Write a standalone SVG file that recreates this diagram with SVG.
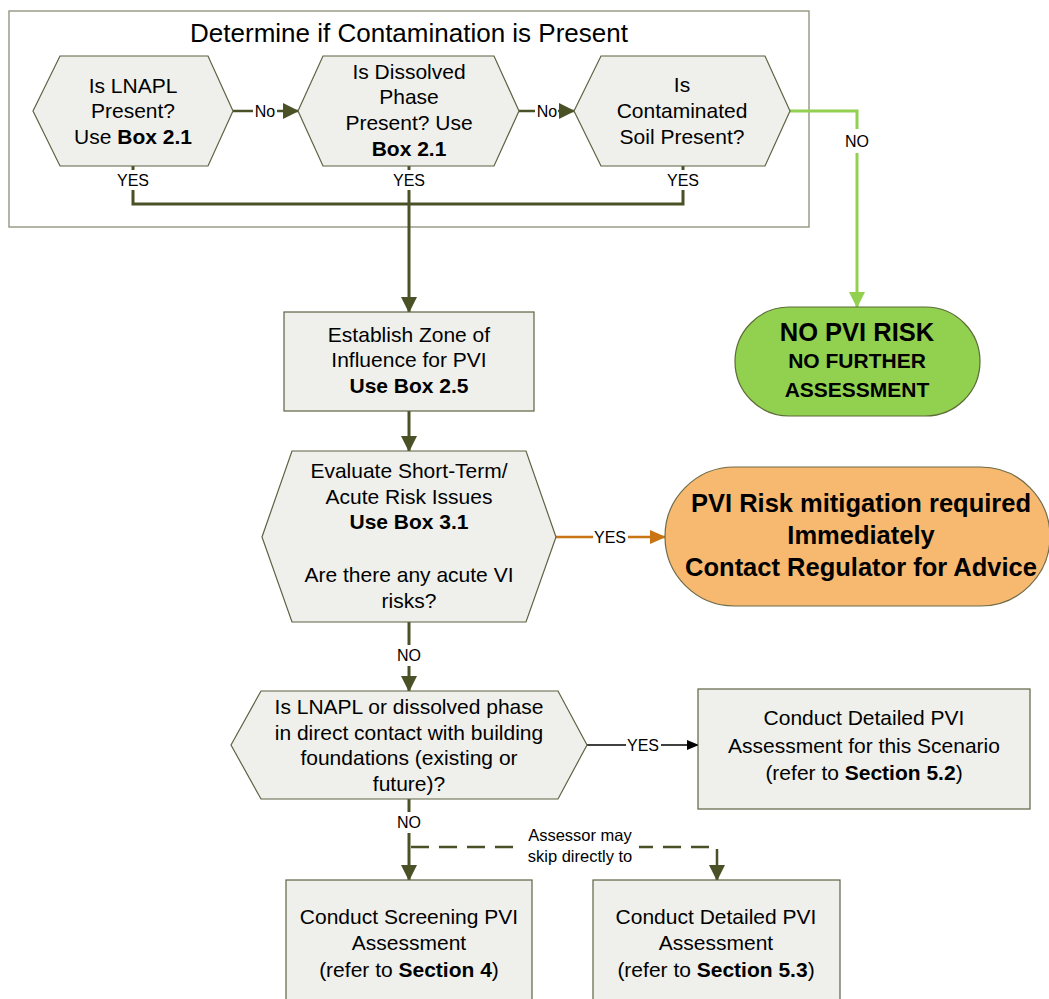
<svg xmlns="http://www.w3.org/2000/svg" width="1049" height="999" viewBox="0 0 1049 999">
  <style>
    text { font-family: "Liberation Sans", Arial, sans-serif; fill: #000; text-anchor: middle; }
    .node { fill: #eff0eb; stroke: #5f6142; stroke-width: 1.2; }
    .t { font-size: 21px; }
    .b { font-weight: bold; }
    .lbl { font-size: 16px; }
    .lbls { font-size: 16.5px; }
    .olive { fill: none; stroke: #4a5126; stroke-width: 3; }
    .olive2 { fill: none; stroke: #4a5126; stroke-width: 2.5; }
    .green { fill: none; stroke: #92d050; stroke-width: 3; }
    .orange { fill: none; stroke: #c87413; stroke-width: 2.5; }
    .black { fill: none; stroke: #000; stroke-width: 1.3; }
    .dash { fill: none; stroke: #4a5126; stroke-width: 2.5; stroke-dasharray: 18 10; }
  </style>
  <defs>
    <marker id="arrOlive" markerUnits="userSpaceOnUse" markerWidth="16" markerHeight="16" refX="15" refY="8" orient="auto">
      <path d="M0,0 L16,8 L0,16 Z" fill="#4a5126"/>
    </marker>
    <marker id="arrGreen" markerUnits="userSpaceOnUse" markerWidth="16" markerHeight="16" refX="15" refY="8" orient="auto">
      <path d="M0,0 L16,8 L0,16 Z" fill="#92d050"/>
    </marker>
    <marker id="arrOrange" markerUnits="userSpaceOnUse" markerWidth="16" markerHeight="14" refX="15" refY="7" orient="auto">
      <path d="M0,0 L16,7 L0,14 Z" fill="#c87413"/>
    </marker>
    <marker id="arrBlack" markerUnits="userSpaceOnUse" markerWidth="12" markerHeight="10" refX="11" refY="5" orient="auto">
      <path d="M0,0 L12,5 L0,10 Z" fill="#000"/>
    </marker>
  </defs>

  <rect width="1049" height="999" fill="#fff"/>

  <!-- contamination check container -->
  <g id="container">
    <rect x="9" y="11" width="800" height="216" fill="none" stroke="#8c8c78" stroke-width="1.3"/>
    <text x="409" y="42" style="font-size:26px">Determine if Contamination is Present</text>
  </g>

  <!-- connectors -->
  <g id="connectors">
    <!-- No arrows between top hexagons -->
    <line class="olive2" x1="233" y1="111" x2="253" y2="111"/>
    <line class="olive2" x1="277" y1="111" x2="298" y2="111" marker-end="url(#arrOlive)"/>
    <text class="lbl" x="265" y="117">No</text>
    <line class="olive2" x1="519" y1="111" x2="535" y2="111"/>
    <line class="olive2" x1="558" y1="111" x2="574" y2="111" marker-end="url(#arrOlive)"/>
    <text class="lbl" x="547" y="117">No</text>

    <!-- YES stubs and merge -->
    <line class="olive" x1="133" y1="166" x2="133" y2="170"/>
    <line class="olive" x1="409" y1="166" x2="409" y2="170"/>
    <line class="olive" x1="683" y1="166" x2="683" y2="170"/>
    <text class="lbl" x="133" y="186">YES</text>
    <text class="lbl" x="409" y="186">YES</text>
    <text class="lbl" x="683" y="186">YES</text>
    <polyline class="olive" points="133,190 133,204 683,204 683,190"/>
    <line class="olive" x1="409" y1="190" x2="409" y2="312" marker-end="url(#arrOlive)"/>

    <!-- NO to no-risk terminator -->
    <polyline class="green" points="790,111 857,111 857,129"/>
    <text class="lbl" x="857" y="147">NO</text>
    <line class="green" x1="857" y1="153" x2="857" y2="307" marker-end="url(#arrGreen)"/>

    <!-- zone of influence to acute risk -->
    <line class="olive" x1="409" y1="411" x2="409" y2="451" marker-end="url(#arrOlive)"/>

    <!-- YES to mitigation -->
    <line class="orange" x1="556" y1="537" x2="593" y2="537"/>
    <text class="lbl" x="610" y="543">YES</text>
    <line class="orange" x1="628" y1="537" x2="665" y2="537" marker-end="url(#arrOrange)"/>

    <!-- NO to direct contact question -->
    <line class="olive" x1="409" y1="622" x2="409" y2="645"/>
    <text class="lbl" x="409" y="661">NO</text>
    <line class="olive" x1="409" y1="666" x2="409" y2="691" marker-end="url(#arrOlive)"/>

    <!-- YES to detailed assessment 5.2 -->
    <line class="black" x1="587" y1="745" x2="626" y2="745"/>
    <text class="lbl" x="643" y="751">YES</text>
    <line class="black" x1="661" y1="745" x2="698" y2="745" marker-end="url(#arrBlack)"/>

    <!-- NO to screening assessment -->
    <line class="olive" x1="409" y1="799" x2="409" y2="812"/>
    <text class="lbl" x="409" y="828">NO</text>
    <line class="olive" x1="409" y1="833" x2="409" y2="880" marker-end="url(#arrOlive)"/>

    <!-- optional skip to detailed assessment 5.3 -->
    <line class="dash" x1="411" y1="847" x2="521" y2="847"/>
    <polyline class="dash" points="639,847 717,847 717,880" stroke-dashoffset="4"/>
    <line class="olive2" x1="717" y1="866" x2="717" y2="880" marker-end="url(#arrOlive)"/>
    <text class="lbls" x="580" y="841">Assessor may</text>
    <text class="lbls" x="580" y="862">skip directly to</text>
  </g>

  <!-- nodes -->
  <g id="q-lnapl">
    <polygon class="node" points="33,111 60,56 208,56 233,111 208,166 60,166"/>
    <text class="t" x="133" y="93">Is LNAPL</text>
    <text class="t" x="133" y="118">Present?</text>
    <text class="t" x="133" y="144">Use <tspan class="b">Box 2.1</tspan></text>
  </g>

  <g id="q-dissolved">
    <polygon class="node" points="298,111 323,56 494,56 519,111 494,166 323,166"/>
    <text class="t" x="409" y="79">Is Dissolved</text>
    <text class="t" x="409" y="104">Phase</text>
    <text class="t" x="409" y="130">Present? Use</text>
    <text class="t b" x="409" y="156">Box 2.1</text>
  </g>

  <g id="q-soil">
    <polygon class="node" points="574,111 601,56 765,56 790,111 765,166 601,166"/>
    <text class="t" x="682" y="92">Is</text>
    <text class="t" x="682" y="118">Contaminated</text>
    <text class="t" x="682" y="144">Soil Present?</text>
  </g>

  <g id="no-risk">
    <rect x="735" y="307" width="245" height="109" rx="54.5" ry="54.5" fill="#92d050" stroke="#5b6b35" stroke-width="1.2"/>
    <text class="b" x="857" y="341" style="font-size:25.5px">NO PVI RISK</text>
    <text class="b" x="857" y="368" style="font-size:21px">NO FURTHER</text>
    <text class="b" x="857" y="397" style="font-size:21px">ASSESSMENT</text>
  </g>

  <g id="zone-of-influence">
    <rect class="node" x="284" y="312" width="250" height="99"/>
    <text class="t" x="409" y="342">Establish Zone of</text>
    <text class="t" x="409" y="367">Influence for PVI</text>
    <text class="t b" x="409" y="393">Use Box 2.5</text>
  </g>

  <g id="q-acute">
    <polygon class="node" points="262,537 292,451 526,451 556,537 526,622 292,622"/>
    <text class="t" x="409" y="478">Evaluate Short-Term/</text>
    <text class="t" x="409" y="504">Acute Risk Issues</text>
    <text class="t b" x="409" y="529">Use Box 3.1</text>
    <text class="t" x="409" y="582">Are there any acute VI</text>
    <text class="t" x="409" y="608">risks?</text>
  </g>

  <g id="mitigation">
    <rect x="665" y="467" width="385" height="139" rx="69.5" ry="69.5" fill="#f7b970" stroke="#6e6a48" stroke-width="1.2"/>
    <text class="b" x="861" y="512" style="font-size:25.5px">PVI Risk mitigation required</text>
    <text class="b" x="861" y="544" style="font-size:25.5px">Immediately</text>
    <text class="b" x="861" y="576" style="font-size:25.5px">Contact Regulator for Advice</text>
  </g>

  <g id="q-direct-contact">
    <polygon class="node" points="231,745 261,691 558,691 587,745 558,799 261,799"/>
    <text class="t" x="409" y="714">Is LNAPL or dissolved phase</text>
    <text class="t" x="409" y="740">in direct contact with building</text>
    <text class="t" x="409" y="765">foundations (existing or</text>
    <text class="t" x="409" y="791">future)?</text>
  </g>

  <g id="detailed-52">
    <rect class="node" x="698" y="689" width="332" height="120"/>
    <text class="t" x="864" y="725">Conduct Detailed PVI</text>
    <text class="t" x="864" y="753">Assessment for this Scenario</text>
    <text class="t" x="864" y="780">(refer to <tspan class="b">Section 5.2</tspan>)</text>
  </g>

  <g id="screening">
    <rect class="node" x="286" y="880" width="246" height="130"/>
    <text class="t" x="409" y="924">Conduct Screening PVI</text>
    <text class="t" x="409" y="950">Assessment</text>
    <text class="t" x="409" y="977">(refer to <tspan class="b">Section 4</tspan>)</text>
  </g>

  <g id="detailed-53">
    <rect class="node" x="593" y="880" width="247" height="130"/>
    <text class="t" x="716" y="924">Conduct Detailed PVI</text>
    <text class="t" x="716" y="950">Assessment</text>
    <text class="t" x="716" y="977">(refer to <tspan class="b">Section 5.3</tspan>)</text>
  </g>
</svg>
